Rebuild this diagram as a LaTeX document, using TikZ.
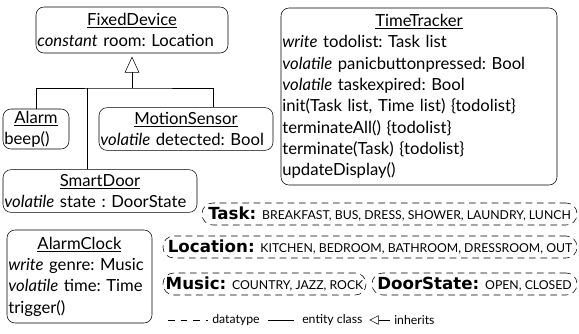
\documentclass[tikz,border=0pt]{standalone}
\usepackage{fontspec}
\setmainfont{Lato}
\newfontfamily\heavyfont{DejaVu Sans}
\usetikzlibrary{arrows.meta}

\begin{document}
\frenchspacing
\begin{tikzpicture}[x=0.75pt,y=-0.75pt,
    entity/.style={draw, rounded corners=6pt, inner sep=1pt, align=left,
        font=\fontsize{12.5}{16}\selectfont},
    datatype/.style={draw, dash pattern=on 5pt off 3.5pt, rounded corners=8pt,
        inner sep=1pt, minimum height=16.5pt, font=\fontsize{12.5}{14}\heavyfont\bfseries},
    inherit/.style={-{Triangle[open,width=11pt,length=12pt]}, shorten >=2.5pt},
    legend/.style={font=\fontsize{9.2}{11}\selectfont, inner sep=0pt}]
    \useasboundingbox (0,0) rectangle (579,333);

    % entity classes
    \node[entity, text width=142pt, minimum height=34.5pt] (fixed) at (132,30)
        {{\centering\underline{FixedDevice}\par}\noindent\textit{constant} room: Location};
    \node[entity, text width=47.5pt, minimum height=30pt] (alarm) at (36,129)
        {{\centering\underline{Alarm}\par}\noindent beep()};
    \node[entity, text width=128.5pt, minimum height=32pt] (motion) at (186,129)
        {{\centering\underline{MotionSensor}\par}\noindent\textit{volatile} detected: Bool};
    \node[entity, text width=143.5pt, minimum height=32pt] (door) at (100,191)
        {{\centering\underline{SmartDoor}\par}\noindent\textit{volatile} state : DoorState};
    \node[entity, text width=106.75pt, minimum height=69.75pt] (clock) at (79.5,276.5)
        {{\centering\underline{AlarmClock}\par}\noindent\textit{write} genre: Music\\
         \textit{volatile} time: Time\\ trigger()};
    \node[entity, text width=205pt, minimum height=132.75pt] (tracker) at (419,96.5)
        {{\centering\underline{TimeTracker}\par}\noindent\textit{write} todolist: Task list\\
         \textit{volatile} panicbuttonpressed: Bool\\
         \textit{volatile} taskexpired: Bool\\
         init(Task list, Time list) \{todolist\}\\
         terminateAll() \{todolist\}\\
         terminate(Task) \{todolist\}\\
         updateDisplay()};

    % datatypes
    \node[datatype, minimum width=281.25pt] (task) at (389.5,214)
        {Task: {\fontsize{9.2}{10}\rmfamily\mdseries BREAKFAST, BUS, DRESS, SHOWER, LAUNDRY, LUNCH}};
    \node[datatype, minimum width=310.5pt] (loc) at (370,247)
        {Location: {\fontsize{9.2}{10}\rmfamily\mdseries KITCHEN, BEDROOM, BATHROOM, DRESSROOM, OUT}};
    \node[datatype, minimum width=152.25pt] (music) at (264.5,284)
        {Music: {\fontsize{9.2}{10}\rmfamily\mdseries COUNTRY, JAZZ, ROCK}};
    \node[datatype, minimum width=153.75pt] (dstate) at (474.5,284)
        {DoorState: {\fontsize{9.2}{10}\rmfamily\mdseries OPEN, CLOSED}};

    % inheritance
    \coordinate (hub) at (132,88);
    \draw[inherit] (hub) -- (fixed.south);
    \draw (alarm.north) |- (hub) -| ([xshift=20.25pt]motion.north);
    \draw ([xshift=-9.75pt]door.north) -- ([xshift=-9.75pt]door.north |- hub);

    % legend
    \node[legend, anchor=west] (dt) at (212,320) {datatype};
    \node[legend, anchor=west] (ec) at (302,320) {entity class};
    \node[legend, anchor=west] (ih) at (394,320) {inherits};
    \coordinate (l1) at (168,320);
    \coordinate (l2) at (268,320);
    \coordinate (l3) at (390,320);
    \draw[dash pattern=on 5pt off 4.5pt] (l1) -- ([xshift=-3pt]dt.west);
    \draw (l2) -- ([xshift=-6pt]ec.west);
    \draw[-{Triangle[open,width=7pt,length=7pt]}] (l3) -- ([xshift=-15.5pt]l3);
\end{tikzpicture}
\end{document}
